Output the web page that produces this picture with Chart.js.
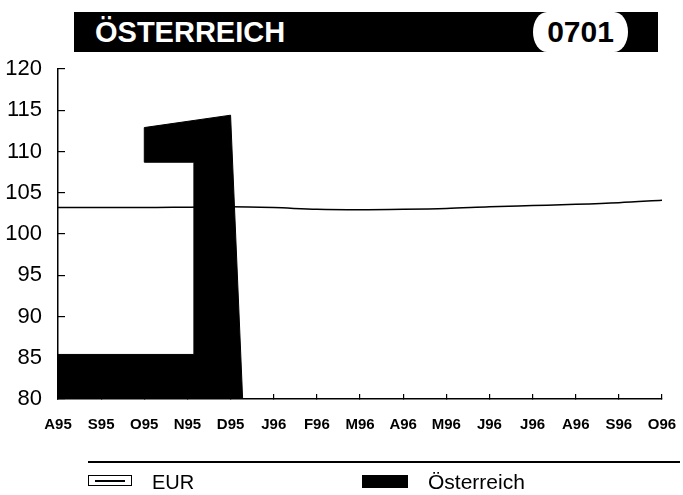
<!DOCTYPE html>
<html>
<head>
<meta charset="utf-8">
<script src="https://cdn.jsdelivr.net/npm/chart.js@4.4.1/dist/chart.umd.min.js"></script>
<style>
  body { margin:0; background:#fff; font-family:"Liberation Sans", Arial, sans-serif; }
  #wrap { position:relative; width:683px; height:495px; overflow:hidden; }
  #chart { position:absolute; left:0; top:0; }
  .titlebar { position:absolute; left:74px; top:12px; width:584px; height:40px; background:#000; }
  .title { position:absolute; left:95px; top:12px; height:40px; line-height:40px; color:#fff; font-weight:bold; font-size:29px; }
  .code { position:absolute; left:533px; top:12px; width:95px; height:40px; line-height:40px; background:#fff;
          border-radius:14px / 20px; text-align:center; font-weight:bold; font-size:30px; color:#000; }
  .rule { position:absolute; left:88px; top:461px; width:592px; height:2px; background:#000; }
  .sym-line { position:absolute; left:88px; top:475px; width:42px; height:9px; border:1.5px solid #000; }
  .sym-line::after { content:""; position:absolute; left:6px; right:6px; top:3.5px; height:2px; background:#000; }
  .sym-box { position:absolute; left:362px; top:475px; width:46px; height:13px; background:#000; }
  .lbl { position:absolute; top:471px; font-size:20px; color:#000; line-height:22px; }
</style>
</head>
<body>
<div id="wrap">
  <canvas id="chart" width="683" height="495"></canvas>
  <div class="titlebar"></div>
  <div class="title">ÖSTERREICH</div>
  <div class="code">0701</div>
  <div class="rule"></div>
  <div class="sym-line"></div>
  <div class="lbl" style="left:152px">EUR</div>
  <div class="sym-box"></div>
  <div class="lbl" style="left:428px;font-size:21px">Österreich</div>
</div>
<script>
  // Monatsachse (Index 0 = A95 ... 14 = O96)
  const months = ['A95','S95','O95','N95','D95','J96','F96','M96','A96','M96','J96','J96','A96','S96','O96'];
  const yTicks = [80, 85, 90, 95, 100, 105, 110, 115, 120];

  // EUR-Linie, ein Wert pro Monat
  const eurValues = [103.2, 103.2, 103.2, 103.25, 103.3, 103.2, 103.0, 102.95, 103.0, 103.1, 103.3, 103.45, 103.6, 103.8, 104.1];

  // Österreich-Fläche: Umriss in Monatsindex / Wert
  const austriaMonth  = [0,    3.15, 3.15,  2,     2,     4,     4.28];
  const austriaValues = [85.4, 85.4, 108.7, 108.7, 112.9, 114.4, 80];

  const ctx = document.getElementById('chart').getContext('2d');

  new Chart(ctx, {
    type: 'line',
    data: {
      datasets: [
        {
          label: 'EUR',
          data: eurValues.map((v, i) => ({ x: i, y: v })),
          borderColor: '#000',
          borderWidth: 1.5,
          pointRadius: 0,
          fill: false,
          cubicInterpolationMode: 'monotone'
        },
        {
          label: 'Österreich',
          data: austriaMonth.map((m, i) => ({ x: m, y: austriaValues[i] })),
          borderColor: '#000',
          backgroundColor: '#000',
          borderWidth: 1,
          pointRadius: 0,
          tension: 0,
          fill: 'start'
        }
      ]
    },
    options: {
      responsive: false,
      animation: false,
      layout: { padding: { left: 0, right: 21, top: 69, bottom: 56 } },
      plugins: { legend: { display: false }, tooltip: { enabled: false } },
      scales: {
        x: {
          type: 'linear',
          min: 0,
          max: months.length - 1,
          // Tick-Padding soll nicht in die seitliche Polsterung einfließen
          afterFit(s) { s.height = 40; s.paddingLeft = 0; s.paddingRight = 0; },
          afterBuildTicks(s) { s.ticks = months.map((m, i) => ({ value: i })); },
          ticks: {
            autoSkip: false,
            maxRotation: 0,
            padding: 22,
            color: '#000',
            font: { family: '"Liberation Sans", Arial, sans-serif', size: 15, weight: 'bold' },
            callback: (v) => months[v]
          },
          grid: { drawOnChartArea: false, tickLength: -5, color: '#000', lineWidth: 1.2 },
          border: { color: '#000', width: 1.5 }
        },
        y: {
          min: 80,
          max: 120,
          afterFit(s) { s.width = 58; s.paddingTop = 0; s.paddingBottom = 0; },
          afterBuildTicks(s) { s.ticks = yTicks.map(v => ({ value: v })); },
          ticks: {
            padding: 23,
            color: '#000',
            font: { family: '"Liberation Sans", Arial, sans-serif', size: 22 }
          },
          grid: { drawOnChartArea: false, tickLength: -7, color: '#000', lineWidth: 1.2 },
          border: { color: '#000', width: 1.5 }
        }
      }
    }
  });
</script>
</body>
</html>
